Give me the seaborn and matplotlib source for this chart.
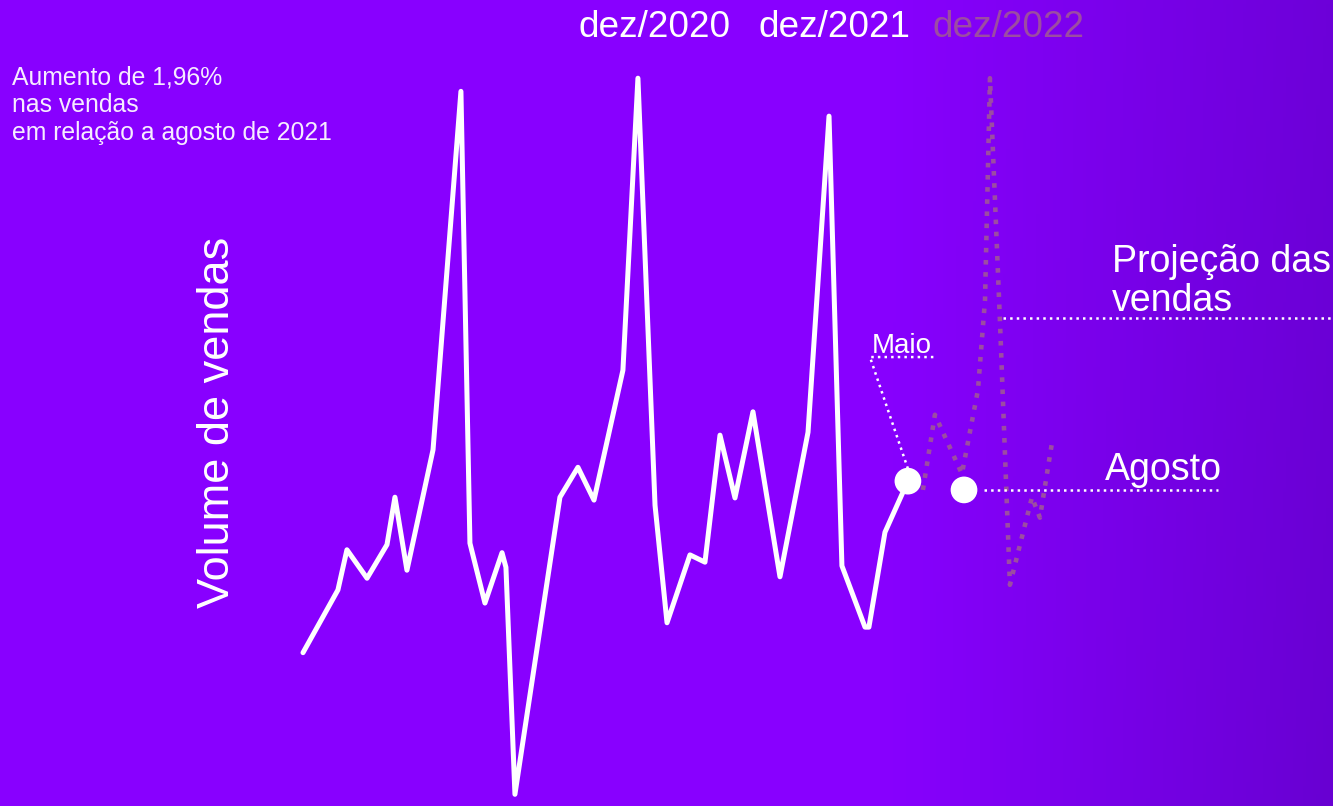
import numpy as np
import pandas as pd
import matplotlib
matplotlib.use("Agg")
import matplotlib.pyplot as plt
import seaborn as sns

# ---- data ----
# months since start (fractional, as drawn) and sales volume (arbitrary units)
mes = [0.0, 2.33, 2.93, 4.27, 5.6, 6.13, 6.93, 8.67, 10.53, 11.13, 12.13, 13.27,
       13.53, 14.13, 17.13, 18.33, 19.4, 21.33, 22.33, 23.47, 24.27, 25.8, 26.8,
       27.8, 28.8, 30.0, 31.8, 33.67, 35.07, 35.93, 37.47, 37.73, 38.8, 40.33]
volume = [21.0, 29.6, 35.1, 31.2, 35.8, 42.3, 32.3, 48.8, 97.9, 36.0, 27.8, 34.7,
          32.7, 1.6, 42.3, 46.4, 41.9, 59.7, 99.7, 41.2, 25.1, 34.4, 33.4,
          50.8, 42.2, 54.0, 31.4, 51.2, 94.5, 32.9, 24.5, 24.5, 37.5, 44.5]

mes_proj = [41.33, 42.13, 43.93, 45.0, 45.47, 45.8, 46.47, 47.13, 48.6, 49.13, 49.93]
volume_proj = [43.3, 53.6, 45.5, 57.0, 69.3, 99.7, 66.2, 30.3, 42.3, 39.5, 49.7]

destaques_mes = [40.33, 44.07]      # Maio, Agosto
destaques_vol = [44.5, 43.3]

rotulos_dez = ["dez/2020", "dez/2021", "dez/2022"]
texto_topo = ["Aumento de 1,96%", "nas vendas", "em relação a agosto de 2021"]

# ---- styling ----
W, H = 1333, 806
BG_LEFT = np.array([136, 0, 255]) / 255
BG_RIGHT = np.array([104, 0, 210]) / 255
PROJ = "#9c4ca2"
FONT = "Liberation Sans"

sns.set_theme(style="white")
plt.rcParams["font.family"] = [FONT, "DejaVu Sans"]

fig = plt.figure(figsize=(W / 100, H / 100), dpi=100)
ax = fig.add_axes([0, 0, 1, 1])
XL = (-20.2, 68.67)
YL = (0, 110.41)
ax.set_xlim(*XL)
ax.set_ylim(*YL)
ax.axis("off")

# background gradient
gx = np.linspace(0, 1, 400)
gy = np.linspace(0, 1, 200)
GX, GY = np.meshgrid(gx, gy)
t = np.clip((GX - 0.66) / 0.34, 0, 1) * (0.85 + 0.15 * GY)
img = BG_LEFT[None, None, :] * (1 - t[..., None]) + BG_RIGHT[None, None, :] * t[..., None]
ax.imshow(img, extent=[XL[0], XL[1], YL[0], YL[1]], aspect="auto", zorder=0, origin="upper")

df = pd.DataFrame({"mes": mes, "volume": volume})
dfp = pd.DataFrame({"mes": mes_proj, "volume": volume_proj})

sns.lineplot(data=dfp, x="mes", y="volume", sort=False, estimator=None, ax=ax,
             color=PROJ, linewidth=3.3, linestyle=":", zorder=2)
sns.lineplot(data=df, x="mes", y="volume", sort=False, estimator=None, ax=ax,
             color="white", linewidth=3.6, zorder=3)
for ln in ax.lines:
    ln.set_solid_joinstyle("round")
sns.scatterplot(x=destaques_mes, y=destaques_vol, ax=ax, color="white", s=370,
                edgecolor="none", zorder=4)

# leader lines (dotted, white)
lk = dict(color="white", linewidth=1.8, linestyle=":", zorder=3)
ax.plot([destaques_mes[0], 37.8, 42.13], [destaques_vol[0] + 1.7, 61.5, 61.5], **lk)
ax.plot([destaques_mes[1] + 1.3, 61.0], [destaques_vol[1], destaques_vol[1]], **lk)
ax.plot([46.67, XL[1]], [66.85, 66.85], **lk)

def ft(x, y, s, **kw):
    fig.text(x / W, 1 - y / H, s, **kw)

# top month labels
for lab, cx, col in zip(rotulos_dez, [655, 834, 1009], ["white", "white", PROJ]):
    ft(cx, 37, lab, ha="center", va="baseline", fontsize=26.6, color=col)

# top-left note
for line, by in zip(texto_topo, [85, 112, 140]):
    ft(12, by, line, ha="left", va="baseline", fontsize=17.8, color="#f6ecff")

# y label
ft(217, 422, "Volume de vendas", ha="center", va="center", rotation=90,
   fontsize=32.5, color="white")

ft(872, 353, "Maio", ha="left", va="baseline", fontsize=20, color="white")
ft(1105, 480, "Agosto", ha="left", va="baseline", fontsize=27, color="white")
ft(1112, 272, "Projeção das", ha="left", va="baseline", fontsize=27, color="white")
ft(1112, 311, "vendas", ha="left", va="baseline", fontsize=27, color="white")

fig.savefig("out.png", dpi=100)
